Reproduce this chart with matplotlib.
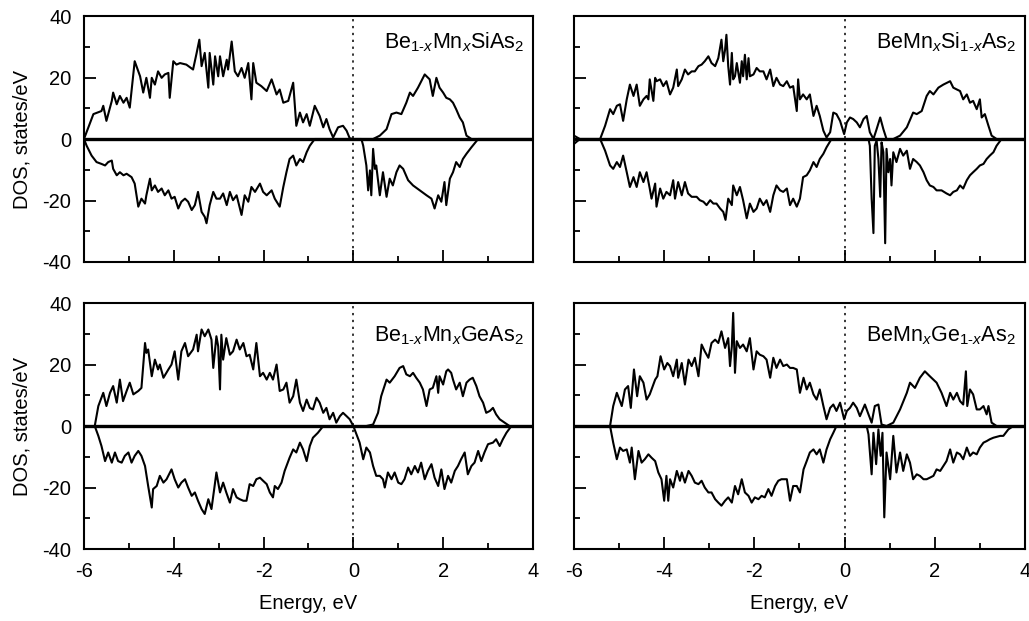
import matplotlib
matplotlib.use('Agg')
import matplotlib.pyplot as plt
from matplotlib.ticker import MultipleLocator

plt.rcParams['font.family'] = ['Liberation Sans', 'DejaVu Sans']
plt.rcParams['mathtext.fontset'] = 'custom'
plt.rcParams['mathtext.rm'] = 'Liberation Sans'
plt.rcParams['mathtext.it'] = 'Liberation Sans:italic'
plt.rcParams['axes.unicode_minus'] = False

# ---- Be(1-x)Mn(x)SiAs2 ----
e_sias_up = [-6.00, -5.79, -5.61, -5.57, -5.50, -5.38, -5.35, -5.27, -5.20, -5.12, -5.05, -4.98, -4.87, -4.75,
             -4.68, -4.61, -4.53, -4.49, -4.42, -4.35, -4.27, -4.20, -4.12, -4.09, -4.01, -3.94, -3.86, -3.72,
             -3.57, -3.49, -3.43, -3.38, -3.31, -3.23, -3.20, -3.12, -3.08, -3.01, -2.97, -2.90, -2.82, -2.79,
             -2.71, -2.64, -2.57, -2.49, -2.42, -2.34, -2.27, -2.23, -2.16, -2.05, -1.93, -1.82, -1.71, -1.64,
             -1.56, -1.45, -1.34, -1.27, -1.19, -1.12, -1.04, -0.97, -0.86, -0.75, -0.67, -0.60, -0.53, -0.45,
             -0.34, -0.23, -0.15, -0.08, 0.00, 0.44, 0.59, 0.74, 0.85, 0.96, 1.07, 1.18, 1.26, 1.33, 1.44, 1.59,
             1.70, 1.77, 1.85, 1.92, 2.00, 2.07, 2.15, 2.22, 2.29, 2.37, 2.44, 2.52, 2.63, 4.00]
dos_sias_up = [0, 8.1, 9.1, 10.8, 5.9, 12.4, 15.1, 11.3, 14.0, 11.8, 13.4, 10.2, 25.3, 20.4,
               15.1, 19.9, 13.4, 19.9, 17.7, 22.0, 19.9, 21.0, 21.5, 13.4, 25.3, 24.2, 24.7, 24.2,
               22.6, 28.0, 32.3, 23.7, 28.0, 16.7, 28.0, 17.7, 26.9, 20.4, 26.9, 20.4, 25.8, 22.6,
               31.7, 22.0, 20.4, 23.1, 19.9, 24.7, 12.9, 24.7, 18.3, 17.2, 15.6, 19.4, 14.5, 16.1,
               11.8, 12.4, 18.3, 4.3, 8.6, 5.4, 8.1, 4.3, 10.8, 7.5, 3.8, 6.5, 3.2, 0.5,
               3.8, 4.3, 2.7, 0.2, 0, 0, 1.1, 3.2, 8.1, 8.6, 8.1, 11.8, 15.1, 14.0, 16.7, 21.0,
               19.4, 14.0, 19.9, 16.7, 15.1, 13.4, 12.9, 11.8, 9.7, 7.0, 5.4, 1.1, 0, 0]
e_sias_dn = [-6.00, -5.94, -5.83, -5.72, -5.61, -5.53, -5.46, -5.38, -5.35, -5.27, -5.20, -5.12, -5.05, -4.94,
             -4.87, -4.79, -4.72, -4.64, -4.61, -4.53, -4.49, -4.42, -4.35, -4.27, -4.20, -4.12, -4.05, -3.98,
             -3.90, -3.83, -3.75, -3.68, -3.60, -3.53, -3.46, -3.38, -3.31, -3.27, -3.20, -3.12, -3.05, -2.97,
             -2.90, -2.82, -2.75, -2.68, -2.60, -2.49, -2.42, -2.34, -2.27, -2.19, -2.08, -2.01, -1.93, -1.82,
             -1.75, -1.64, -1.56, -1.49, -1.42, -1.34, -1.27, -1.19, -1.12, -1.04, -0.97, -0.86, 0.18, 0.22,
             0.29, 0.33, 0.37, 0.40, 0.44, 0.48, 0.51, 0.59, 0.66, 0.74, 0.81, 0.88, 0.96, 1.03, 1.11, 1.22,
             1.33, 1.48, 1.63, 1.74, 1.81, 1.89, 1.96, 2.03, 2.07, 2.15, 2.22, 2.29, 2.37, 2.44, 2.52, 2.63,
             2.78, 4.00]
dos_sias_dn = [0, -2.2, -5.4, -7.5, -8.1, -8.6, -7.5, -7.0, -9.7, -11.8, -10.8, -11.8, -11.3, -12.4,
               -14.5, -22.0, -19.4, -21.0, -18.3, -12.9, -16.7, -15.1, -17.2, -16.1, -18.3, -16.7, -19.4, -18.8,
               -22.6, -20.4, -19.4, -20.4, -23.1, -21.5, -17.2, -23.7, -25.3, -27.4, -21.5, -17.2, -19.4, -19.4,
               -17.7, -21.5, -17.2, -19.9, -18.3, -24.7, -18.3, -20.4, -15.6, -17.2, -14.5, -17.2, -18.3, -16.7,
               -19.4, -22.0, -15.6, -10.8, -6.5, -5.4, -8.6, -6.5, -7.5, -4.3, -2.2, 0, 0, -2.2,
               -8.6, -16.7, -10.2, -18.3, -3.2, -9.7, -8.6, -18.3, -10.8, -18.8, -12.9, -15.1, -10.8, -8.6, -9.7, -13.4,
               -15.1, -16.7, -18.3, -19.4, -22.6, -18.3, -20.4, -14.0, -21.5, -12.9, -10.8, -7.5, -9.1, -6.5, -4.8, -2.7,
               0, 0]

# ---- BeMn(x)Si(1-x)As2 ----
e_si_up = [-6.00, -5.87, -5.42, -5.31, -5.20, -5.13, -5.05, -4.98, -4.91, -4.83, -4.76, -4.68, -4.61, -4.54,
           -4.46, -4.39, -4.35, -4.32, -4.24, -4.20, -4.17, -4.09, -4.02, -3.95, -3.87, -3.80, -3.72, -3.69,
           -3.61, -3.54, -3.47, -3.39, -3.32, -3.24, -3.17, -3.10, -3.02, -2.95, -2.87, -2.80, -2.73, -2.69,
           -2.65, -2.62, -2.58, -2.54, -2.50, -2.47, -2.43, -2.39, -2.32, -2.28, -2.25, -2.21, -2.17, -2.13,
           -2.10, -2.02, -1.95, -1.88, -1.80, -1.73, -1.65, -1.58, -1.51, -1.43, -1.36, -1.28, -1.21, -1.14,
           -1.06, -1.03, -0.99, -0.92, -0.84, -0.77, -0.69, -0.62, -0.55, -0.47, -0.40, -0.32, -0.25, -0.18,
           -0.10, -0.01, 0.05, 0.12, 0.19, 0.27, 0.34, 0.42, 0.49, 0.56, 0.64, 0.71, 0.79, 0.86, 0.93, 1.08,
           1.23, 1.38, 1.52, 1.60, 1.71, 1.82, 1.89, 1.97, 2.08, 2.19, 2.34, 2.41, 2.49, 2.56, 2.63, 2.71,
           2.78, 2.85, 2.93, 3.00, 3.04, 3.11, 3.19, 3.26, 3.37, 4.00]
dos_si_up = [1.1, 0, 0, 4.3, 9.7, 8.1, 10.8, 11.3, 5.9, 12.9, 17.7, 14.0, 17.7, 10.8,
             12.9, 14.0, 12.9, 19.4, 12.4, 19.9, 18.8, 19.4, 17.2, 18.8, 14.5, 16.7, 22.6, 17.2,
             19.4, 22.6, 21.0, 22.0, 22.0, 23.7, 24.2, 25.3, 26.9, 24.7, 23.7, 26.3, 32.3, 25.3,
             29.0, 33.9, 23.7, 17.7, 28.0, 19.4, 20.4, 24.7, 18.3, 25.3, 20.4, 27.4, 19.4, 26.3,
             20.4, 21.0, 23.1, 22.0, 22.0, 19.4, 22.6, 17.2, 19.9, 17.7, 17.2, 18.8, 16.7, 17.2,
             9.1, 19.4, 12.9, 14.5, 12.9, 14.5, 7.5, 10.8, 7.5, 2.7, 0.5, 2.2, 8.6, 8.1,
             5.9, 1.6, 5.4, 7.0, 6.5, 5.4, 3.8, 6.5, 7.5, 2.2, 0, 3.2, 7.0, 3.2, 0, 0,
             1.1, 3.8, 8.6, 8.1, 9.1, 14.0, 15.6, 14.5, 16.7, 17.7, 18.8, 16.7, 16.1, 15.6, 12.9, 14.5,
             11.8, 12.4, 9.7, 12.9, 7.0, 8.1, 4.3, 1.1, 0, 0]
e_si_dn = [-6.00, -5.87, -5.42, -5.31, -5.20, -5.13, -5.05, -4.98, -4.91, -4.83, -4.76, -4.68, -4.61, -4.54,
           -4.46, -4.39, -4.32, -4.28, -4.20, -4.17, -4.09, -4.02, -3.95, -3.87, -3.80, -3.76, -3.69, -3.61,
           -3.54, -3.47, -3.39, -3.28, -3.21, -3.13, -3.06, -2.98, -2.91, -2.84, -2.76, -2.69, -2.64, -2.58,
           -2.50, -2.47, -2.39, -2.32, -2.25, -2.17, -2.10, -2.02, -1.95, -1.88, -1.80, -1.73, -1.65, -1.58,
           -1.51, -1.43, -1.36, -1.28, -1.21, -1.14, -1.06, -0.99, -0.92, -0.84, -0.77, -0.69, -0.62, -0.55,
           -0.47, -0.40, -0.29, 0.53, 0.56, 0.60, 0.64, 0.67, 0.71, 0.75, 0.79, 0.82, 0.86, 0.90, 0.93, 0.97,
           1.01, 1.04, 1.08, 1.15, 1.23, 1.30, 1.38, 1.45, 1.52, 1.60, 1.67, 1.75, 1.82, 1.89, 1.97, 2.04,
           2.15, 2.26, 2.34, 2.41, 2.49, 2.56, 2.63, 2.71, 2.78, 2.85, 2.93, 3.00, 3.08, 3.15, 3.22, 3.30,
           3.37, 3.48, 4.00]
dos_si_dn = [-1.6, 0, 0, -3.8, -8.6, -9.7, -7.5, -9.1, -5.4, -10.8, -15.6, -12.4, -15.6, -10.8,
             -14.0, -10.8, -16.1, -19.4, -14.5, -22.0, -16.1, -19.4, -17.2, -18.3, -13.4, -19.4, -14.0, -18.3,
             -14.0, -17.7, -18.8, -18.8, -19.9, -20.4, -21.5, -19.9, -21.0, -21.0, -22.6, -23.7, -26.3, -19.4,
             -21.5, -15.1, -18.3, -15.6, -19.9, -25.8, -21.0, -23.7, -22.6, -19.4, -21.5, -19.9, -23.7, -18.3,
             -15.1, -16.7, -17.2, -16.1, -21.5, -19.4, -22.0, -19.4, -12.4, -11.8, -10.2, -7.5, -9.1, -6.5,
             -4.8, -2.7, 0, 0, -2.2, -19.4, -30.6, -2.2, -0.5, -6.5, -18.8, -1.1, -4.3, -33.9, -3.2, -10.8,
             -6.5, -15.1, -4.3, -7.5, -3.2, -5.4, -3.8, -9.7, -6.5, -7.5, -8.6, -10.8, -13.4, -15.1, -15.6, -16.7,
             -16.7, -17.7, -18.3, -17.2, -16.7, -15.1, -16.1, -13.4, -11.8, -10.8, -9.7, -8.6, -8.1, -6.5, -5.4, -4.3,
             -2.2, 0, 0]

# ---- Be(1-x)Mn(x)GeAs2 ----
e_geas_up = [-5.76, -5.68, -5.57, -5.50, -5.42, -5.35, -5.27, -5.20, -5.13, -5.05, -4.98, -4.90, -4.79, -4.72,
             -4.64, -4.61, -4.57, -4.49, -4.42, -4.35, -4.31, -4.23, -4.12, -4.05, -3.98, -3.90, -3.83, -3.75,
             -3.68, -3.57, -3.49, -3.46, -3.38, -3.31, -3.23, -3.16, -3.12, -3.05, -3.01, -2.97, -2.94, -2.90,
             -2.83, -2.75, -2.68, -2.60, -2.53, -2.45, -2.38, -2.31, -2.23, -2.16, -2.08, -2.01, -1.93, -1.86,
             -1.79, -1.71, -1.64, -1.56, -1.49, -1.42, -1.34, -1.27, -1.19, -1.12, -1.04, -0.97, -0.90, -0.82,
             -0.75, -0.67, -0.60, -0.53, -0.45, -0.38, -0.30, -0.23, -0.15, -0.08, 0.00, 0.29, 0.44, 0.55,
             0.62, 0.74, 0.81, 0.92, 1.03, 1.11, 1.18, 1.26, 1.33, 1.40, 1.48, 1.55, 1.63, 1.70, 1.77, 1.85,
             1.89, 1.92, 2.00, 2.07, 2.11, 2.18, 2.22, 2.29, 2.37, 2.44, 2.52, 2.59, 2.66, 2.74, 2.81, 2.89,
             2.96, 3.04, 3.11, 3.18, 3.26, 3.37, 3.48, 4.00]
dos_geas_up = [0, 6.5, 10.8, 6.5, 10.8, 13.0, 7.6, 15.1, 8.1, 11.4, 14.1, 10.3, 11.4, 12.4,
               27.0, 23.8, 24.9, 16.2, 21.6, 18.4, 20.0, 15.7, 18.4, 20.0, 24.3, 15.1, 24.3, 27.0,
               22.7, 24.9, 29.7, 24.3, 31.4, 29.2, 31.4, 28.1, 18.9, 29.2, 25.9, 11.9, 29.7, 21.6,
               28.6, 23.2, 24.3, 28.1, 24.9, 27.0, 22.7, 23.2, 18.4, 27.0, 16.2, 17.3, 15.1, 17.3,
               15.1, 20.0, 11.4, 11.9, 14.1, 7.6, 9.7, 15.1, 7.6, 4.9, 8.6, 5.9, 5.4, 9.2,
               7.6, 4.3, 5.9, 2.2, 4.3, 1.1, 3.2, 4.3, 3.2, 2.2, 0, 0, 0.5, 4.3,
               9.7, 15.1, 14.1, 16.2, 18.9, 19.5, 16.8, 16.2, 17.3, 15.7, 14.1, 11.9, 6.5, 11.9, 12.4, 16.2,
               10.8, 16.2, 13.5, 17.8, 18.4, 17.3, 15.1, 11.9, 14.1, 9.7, 14.1, 15.1, 15.7, 13.0, 9.7, 7.6,
               4.3, 4.9, 5.9, 3.8, 2.2, 1.1, 0, 0]
e_geas_dn = [-5.76, -5.68, -5.61, -5.53, -5.46, -5.38, -5.31, -5.24, -5.16, -5.09, -5.01, -4.94, -4.87, -4.79,
             -4.72, -4.64, -4.57, -4.49, -4.46, -4.38, -4.31, -4.23, -4.16, -4.05, -3.98, -3.90, -3.83, -3.75,
             -3.68, -3.60, -3.53, -3.46, -3.38, -3.31, -3.23, -3.16, -3.09, -3.05, -2.97, -2.90, -2.83, -2.75,
             -2.68, -2.60, -2.53, -2.45, -2.38, -2.31, -2.23, -2.16, -2.08, -2.01, -1.93, -1.86, -1.79, -1.75,
             -1.68, -1.60, -1.53, -1.42, -1.34, -1.27, -1.19, -1.12, -1.04, -0.97, -0.90, -0.79, -0.67, 0.00,
             0.07, 0.14, 0.22, 0.29, 0.37, 0.44, 0.51, 0.59, 0.66, 0.70, 0.77, 0.85, 0.92, 1.00, 1.07, 1.14,
             1.22, 1.29, 1.37, 1.44, 1.51, 1.59, 1.66, 1.74, 1.81, 1.89, 1.96, 2.03, 2.11, 2.18, 2.26, 2.33,
             2.40, 2.48, 2.55, 2.63, 2.70, 2.78, 2.85, 2.92, 3.00, 3.11, 3.18, 3.26, 3.33, 3.41, 3.52, 4.00]
dos_geas_dn = [0, -3.2, -6.5, -11.4, -8.6, -11.9, -8.6, -11.4, -11.9, -9.7, -8.6, -11.9, -9.7, -8.1,
               -9.7, -13.0, -19.5, -26.5, -20.5, -19.5, -16.2, -18.4, -17.3, -14.1, -17.3, -20.0, -18.4, -17.3,
               -20.0, -22.7, -21.6, -24.3, -27.0, -28.6, -23.8, -27.0, -19.5, -15.1, -21.6, -18.4, -21.6, -24.9,
               -20.5, -23.2, -23.8, -24.3, -24.3, -18.9, -19.5, -17.3, -16.8, -17.8, -18.9, -21.6, -23.2, -19.5,
               -20.5, -18.4, -14.6, -10.3, -7.6, -8.6, -5.4, -7.6, -11.4, -6.5, -3.8, -2.2, 0, 0,
               -2.7, -5.4, -10.8, -7.0, -8.6, -13.0, -16.2, -16.2, -17.3, -20.0, -15.1, -17.3, -15.1, -18.4, -18.9, -17.3,
               -13.5, -15.7, -13.0, -15.1, -11.9, -17.3, -14.6, -12.4, -16.8, -19.5, -14.1, -20.5, -16.2, -18.4, -14.6, -13.0,
               -10.8, -8.6, -15.7, -13.0, -11.9, -8.1, -11.4, -8.6, -5.9, -5.4, -4.3, -6.5, -4.3, -2.2, 0, 0]

# ---- BeMn(x)Ge(1-x)As2 ----
e_ge_up = [-5.20, -5.13, -5.05, -4.94, -4.87, -4.80, -4.74, -4.67, -4.60, -4.54, -4.46, -4.39, -4.32, -4.20,
           -4.15, -4.08, -4.00, -3.93, -3.87, -3.80, -3.72, -3.69, -3.61, -3.54, -3.46, -3.39, -3.32, -3.24,
           -3.17, -3.10, -3.02, -2.95, -2.87, -2.80, -2.73, -2.65, -2.58, -2.54, -2.50, -2.47, -2.43, -2.39,
           -2.32, -2.25, -2.17, -2.10, -2.02, -1.95, -1.88, -1.80, -1.73, -1.65, -1.58, -1.51, -1.43, -1.36,
           -1.28, -1.21, -1.14, -1.06, -0.99, -0.91, -0.84, -0.77, -0.69, -0.62, -0.55, -0.47, -0.40, -0.32,
           -0.25, -0.18, -0.10, -0.01, 0.05, 0.12, 0.19, 0.27, 0.34, 0.45, 0.53, 0.60, 0.67, 0.75, 0.82, 0.93,
           1.08, 1.23, 1.38, 1.45, 1.56, 1.67, 1.78, 1.89, 2.04, 2.15, 2.26, 2.34, 2.41, 2.49, 2.56, 2.63,
           2.69, 2.72, 2.78, 2.85, 2.93, 3.00, 3.08, 3.15, 3.19, 3.26, 3.37, 4.00]
dos_ge_up = [0, 6.5, 10.8, 6.5, 11.9, 13.0, 5.9, 18.4, 9.7, 16.2, 14.1, 8.6, 10.3, 15.1,
             16.2, 22.7, 18.4, 20.5, 19.5, 16.2, 21.6, 15.7, 20.5, 13.5, 21.6, 19.5, 22.2, 16.2,
             26.5, 24.3, 22.2, 27.0, 28.1, 27.0, 30.8, 25.4, 28.6, 19.5, 25.9, 36.8, 17.3, 27.6,
             25.4, 26.5, 24.3, 28.6, 18.4, 24.3, 23.2, 22.7, 21.6, 15.7, 22.2, 18.9, 21.6, 19.5,
             20.0, 18.9, 18.9, 18.4, 10.8, 15.7, 11.9, 14.1, 10.3, 8.6, 11.9, 6.5, 2.2, 5.9,
             7.0, 4.9, 7.6, 2.2, 4.9, 5.9, 7.6, 5.9, 3.2, 7.0, 3.8, 1.1, 6.5, 7.0, 0.5, 0,
             1.1, 5.4, 10.8, 14.1, 12.4, 15.7, 17.8, 16.2, 14.1, 10.8, 6.5, 10.8, 8.6, 10.8, 8.1, 7.0,
             17.8, 6.5, 11.9, 10.3, 5.4, 5.4, 6.5, 3.8, 6.5, 1.1, 0, 0]
e_ge_dn = [-5.20, -5.13, -5.05, -4.98, -4.91, -4.83, -4.76, -4.72, -4.65, -4.57, -4.50, -4.43, -4.35, -4.28,
           -4.20, -4.13, -4.06, -4.00, -3.95, -3.91, -3.87, -3.80, -3.72, -3.65, -3.61, -3.54, -3.46, -3.39,
           -3.32, -3.24, -3.17, -3.10, -3.02, -2.95, -2.87, -2.80, -2.73, -2.65, -2.58, -2.50, -2.43, -2.36,
           -2.28, -2.21, -2.13, -2.06, -1.99, -1.91, -1.84, -1.77, -1.69, -1.62, -1.54, -1.47, -1.40, -1.28,
           -1.21, -1.14, -1.06, -0.99, -0.91, -0.84, -0.77, -0.69, -0.62, -0.55, -0.47, -0.40, -0.32, -0.25,
           -0.18, 0.49, 0.53, 0.60, 0.64, 0.70, 0.75, 0.80, 0.84, 0.88, 0.93, 1.01, 1.08, 1.15, 1.23, 1.30,
           1.38, 1.45, 1.52, 1.60, 1.67, 1.75, 1.82, 1.89, 1.97, 2.04, 2.12, 2.19, 2.26, 2.34, 2.41, 2.49,
           2.56, 2.63, 2.71, 2.78, 2.85, 2.93, 3.00, 3.08, 3.15, 3.22, 3.30, 3.45, 3.52, 3.63, 3.74, 4.00]
dos_ge_dn = [0, -5.4, -10.8, -7.0, -8.1, -7.6, -11.9, -7.0, -17.3, -8.1, -11.9, -10.8, -9.2, -10.3,
             -11.4, -15.1, -17.3, -24.3, -16.2, -24.3, -17.3, -20.0, -14.6, -17.8, -15.1, -18.4, -14.6, -16.2,
             -18.4, -18.9, -17.8, -20.0, -21.6, -21.6, -23.8, -24.9, -25.9, -24.3, -23.2, -24.9, -19.5, -22.2,
             -17.3, -21.6, -22.7, -24.9, -23.2, -23.8, -22.7, -23.2, -20.5, -22.7, -19.5, -17.8, -17.3, -17.3,
             -24.3, -19.5, -19.5, -21.6, -14.1, -11.4, -8.6, -7.6, -9.2, -7.6, -11.9, -7.6, -4.3, -2.2,
             0, 0, -2.7, -15.7, -2.2, -12.4, -1.1, -9.7, -2.2, -29.7, -8.6, -17.3, -3.2, -15.1, -8.6, -14.6,
             -9.2, -11.9, -17.3, -15.7, -16.2, -17.3, -17.3, -16.8, -16.2, -14.1, -14.6, -13.0, -11.4, -7.6, -11.9, -8.6,
             -9.2, -10.8, -7.0, -9.7, -8.6, -9.2, -7.0, -5.4, -4.9, -4.3, -3.8, -3.2, -3.2, -1.1, 0, 0]

labels = [r'Be$_{\mathrm{1}\text{-}x}$Mn$_x$SiAs$_2$',
          r'BeMn$_x$Si$_{\mathrm{1}\text{-}x}$As$_2$',
          r'Be$_{\mathrm{1}\text{-}x}$Mn$_x$GeAs$_2$',
          r'BeMn$_x$Ge$_{\mathrm{1}\text{-}x}$As$_2$']
panels = [(e_sias_up, dos_sias_up, e_sias_dn, dos_sias_dn),
          (e_si_up, dos_si_up, e_si_dn, dos_si_dn),
          (e_geas_up, dos_geas_up, e_geas_dn, dos_geas_dn),
          (e_ge_up, dos_ge_up, e_ge_dn, dos_ge_dn)]

fig = plt.figure(figsize=(10.29, 6.21), dpi=100)
boxes = [[0.0816, 0.5781, 0.4363, 0.3961], [0.5578, 0.5781, 0.4383, 0.3961],
         [0.0816, 0.1159, 0.4363, 0.3961], [0.5578, 0.1159, 0.4383, 0.3961]]
label_y = [0.868, 0.868, 0.845, 0.845]

for i, (box, (eu, du, ed, dd)) in enumerate(zip(boxes, panels)):
    ax = fig.add_axes(box)
    ax.axvline(0, color='k', lw=1.1, ls=(0, (1.5, 3)))
    ax.plot(eu, du, color='k', lw=1.5)
    ax.plot(ed, dd, color='k', lw=1.5)
    ax.axhline(0, color='k', lw=2.4)
    ax.set_xlim(-6, 4)
    ax.set_ylim(-40, 40)
    ax.xaxis.set_major_locator(MultipleLocator(2))
    ax.xaxis.set_minor_locator(MultipleLocator(1))
    ax.yaxis.set_major_locator(MultipleLocator(20))
    ax.yaxis.set_minor_locator(MultipleLocator(10))
    ax.tick_params(which='major', direction='in', length=8.6, width=1.3, labelsize=14.5, pad=9)
    ax.tick_params(which='minor', direction='in', length=4.5, width=1.3)
    for s in ax.spines.values():
        s.set_linewidth(1.5)
    ax.text(0.98, label_y[i], labels[i], transform=ax.transAxes, ha='right', va='baseline', fontsize=15.5)
    if i < 2:
        ax.tick_params(labelbottom=False)
    else:
        ax.set_xlabel('Energy, eV', fontsize=14.5, labelpad=10)
    if i % 2 == 1:
        ax.tick_params(labelleft=False)
    else:
        ax.set_ylabel('DOS, states/eV', fontsize=14.5, labelpad=8)

fig.savefig('out.png', dpi=100)
